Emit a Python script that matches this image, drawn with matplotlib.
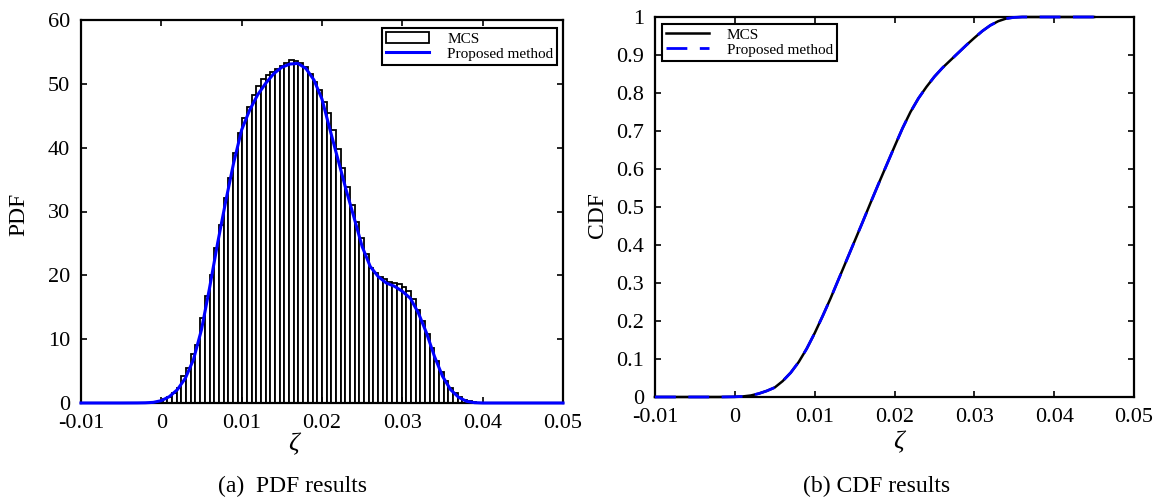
import numpy as np
import matplotlib
matplotlib.use("Agg")
import matplotlib.pyplot as plt
from matplotlib.ticker import FuncFormatter

plt.rcParams['font.family'] = ['Liberation Serif', 'DejaVu Serif']

# ---- PDF: MCS histogram (70 bins) ----
hist_start = -0.001582
hist_width = 0.000583
hist_values = [0.05, 0.15, 0.3, 0.6, 1.0, 1.6, 2.3, 4.2, 5.5, 7.6,
               9.1, 13.3, 16.7, 20.1, 24.3, 27.9, 32.1, 35.2, 39.1, 42.3,
               44.6, 46.3, 48.3, 49.6, 50.7, 51.4, 51.9, 52.4, 52.8, 53.3,
               53.7, 53.5, 53.3, 52.7, 51.5, 50.3, 49.0, 47.2, 45.5, 42.8,
               39.8, 36.8, 33.8, 31.0, 28.3, 25.8, 23.3, 21.2, 20.3, 19.7,
               19.4, 19.0, 18.8, 18.6, 18.2, 17.5, 16.3, 14.5, 12.9, 10.8,
               8.6, 6.6, 4.9, 3.5, 2.4, 1.5, 0.9, 0.5, 0.25, 0.1]

# ---- PDF: proposed method curve ----
pdf_x = [-0.01, -0.005, -0.003, -0.002, -0.001,
         0.000, 0.001, 0.002, 0.003, 0.004, 0.005, 0.006, 0.007, 0.008, 0.009,
         0.010, 0.011, 0.012, 0.013, 0.014, 0.015, 0.016, 0.017, 0.018, 0.019,
         0.020, 0.021, 0.022, 0.023, 0.024, 0.025, 0.026, 0.027, 0.028, 0.029,
         0.030, 0.031, 0.032, 0.033, 0.034, 0.035, 0.036, 0.037, 0.038, 0.039,
         0.040, 0.045, 0.05]
pdf_proposed = [0.0, 0.0, 0.01, 0.03, 0.1,
                0.37, 1.0, 2.1, 3.9, 6.8, 11.5, 18.0, 25.0, 31.5, 37.6,
                42.8, 45.9, 48.3, 50.1, 51.6, 52.6, 53.1, 53.2, 52.4, 50.6,
                47.6, 42.8, 38.1, 33.4, 29.0, 24.5, 21.4, 19.8, 18.8, 18.3,
                17.5, 16.4, 14.1, 11.0, 7.3, 4.2, 2.1, 0.9, 0.26, 0.05,
                0.0, 0.0, 0.0]

# ---- CDF ----
cdf_x = [-0.01, -0.005, -0.002,
         0.000, 0.001, 0.002, 0.003, 0.004, 0.005, 0.006, 0.007, 0.008, 0.009,
         0.010, 0.011, 0.012, 0.013, 0.014, 0.015, 0.016, 0.017, 0.018, 0.019,
         0.020, 0.021, 0.022, 0.023, 0.024, 0.025, 0.026, 0.027, 0.028, 0.029,
         0.030, 0.031, 0.032, 0.033, 0.034, 0.035, 0.036, 0.040, 0.045]
cdf_mcs = [0.0, 0.0, 0.0,
           0.0005, 0.0015, 0.004, 0.009, 0.016, 0.025, 0.042, 0.064, 0.092, 0.127,
           0.168, 0.213, 0.260, 0.310, 0.360, 0.410, 0.460, 0.511, 0.561, 0.610,
           0.659, 0.707, 0.750, 0.786, 0.816, 0.843, 0.866, 0.886, 0.906, 0.926,
           0.945, 0.963, 0.978, 0.989, 0.996, 0.999, 1.0, 1.0, 1.0]
cdf_proposed = [0.0, 0.0, 0.0,
                0.0005, 0.0015, 0.004, 0.009, 0.016, 0.025, 0.042, 0.064, 0.092, 0.127,
                0.168, 0.213, 0.260, 0.310, 0.360, 0.410, 0.460, 0.511, 0.561, 0.610,
                0.659, 0.707, 0.750, 0.786, 0.816, 0.843, 0.866, 0.886, 0.906, 0.926,
                0.945, 0.963, 0.978, 0.989, 0.996, 0.999, 1.0, 1.0, 1.0]

xticks = [-0.01, 0, 0.01, 0.02, 0.03, 0.04, 0.05]

fig = plt.figure(figsize=(11.55, 5.01), dpi=100)
ax1 = fig.add_axes([81 / 1155, 1 - 403 / 501, 482 / 1155, 383 / 501])
ax2 = fig.add_axes([655 / 1155, 1 - 397 / 501, 479 / 1155, 380 / 501])

# --- (a) PDF ---
edges = hist_start + hist_width * np.arange(len(hist_values))
bars = ax1.bar(edges, hist_values, width=hist_width, align='edge', color='white',
               edgecolor='black', linewidth=1.3, label='MCS')
line, = ax1.plot(pdf_x, pdf_proposed, color='blue', lw=2.2, label='Proposed method',
                 zorder=3, clip_on=False)
ax1.set_xlim(-0.01, 0.05)
ax1.set_ylim(0, 60)
ax1.set_yticks(range(0, 61, 10))

# --- (b) CDF ---
ax2.plot(cdf_x, cdf_mcs, color='black', lw=1.8, label='MCS', zorder=3, clip_on=False)
ax2.plot(cdf_x, cdf_proposed, color='blue', lw=2.0, dashes=(7.5, 4.5),
         label='Proposed method', zorder=4, clip_on=False)
ax2.set_xlim(-0.01, 0.05)
ax2.set_ylim(0, 1)
ax2.set_yticks(np.round(np.arange(0, 1.01, 0.1), 1))
ax2.yaxis.set_major_formatter(FuncFormatter(lambda v, p: '%g' % v))

for ax in (ax1, ax2):
    ax.set_xticks(xticks)
    ax.xaxis.set_major_formatter(FuncFormatter(lambda v, p: '%g' % round(v, 3)))
    ax.tick_params(direction='in', top=True, right=True, length=4, width=1.2,
                   labelsize=16)
    ax.tick_params(axis='x', pad=8)
    ax.tick_params(axis='y', pad=8)
    for s in ax.spines.values():
        s.set_linewidth(1.6)

ax1.set_xlabel('ζ', fontsize=19, fontstyle='italic')
ax1.xaxis.set_label_coords((293 - 81) / 482, -0.078)
ax2.set_xlabel('ζ', fontsize=19, fontstyle='italic')
ax2.xaxis.set_label_coords((898 - 655) / 479, -0.09)

fig.text(19 / 1155, 1 - 214 / 501, 'PDF', rotation=90, ha='center', va='center', fontsize=17)
fig.text(598 / 1155, 1 - 215 / 501, 'CDF', rotation=90, ha='center', va='center', fontsize=17)

leg_kw = dict(fontsize=11, frameon=True, fancybox=False, framealpha=1,
              edgecolor='black', borderaxespad=0, borderpad=0.25,
              labelspacing=0.1, handlelength=2.8, handletextpad=1.2)
l1 = ax1.legend([bars, line], ['MCS', 'Proposed method'], loc='upper right',
                bbox_to_anchor=((557 - 81) / 482, (403 - 28) / 383), **leg_kw)
l1.get_frame().set_linewidth(1.5)
l2 = ax2.legend(loc='upper left', bbox_to_anchor=((662 - 655) / 479, (397 - 24) / 380), **leg_kw)
l2.get_frame().set_linewidth(1.5)

fig.text(218 / 1155, 1 - 486 / 501, '(a)  PDF results', ha='left', va='center', fontsize=17)
fig.text(803 / 1155, 1 - 486 / 501, '(b) CDF results', ha='left', va='center', fontsize=17)

fig.savefig('out.png', dpi=100)
